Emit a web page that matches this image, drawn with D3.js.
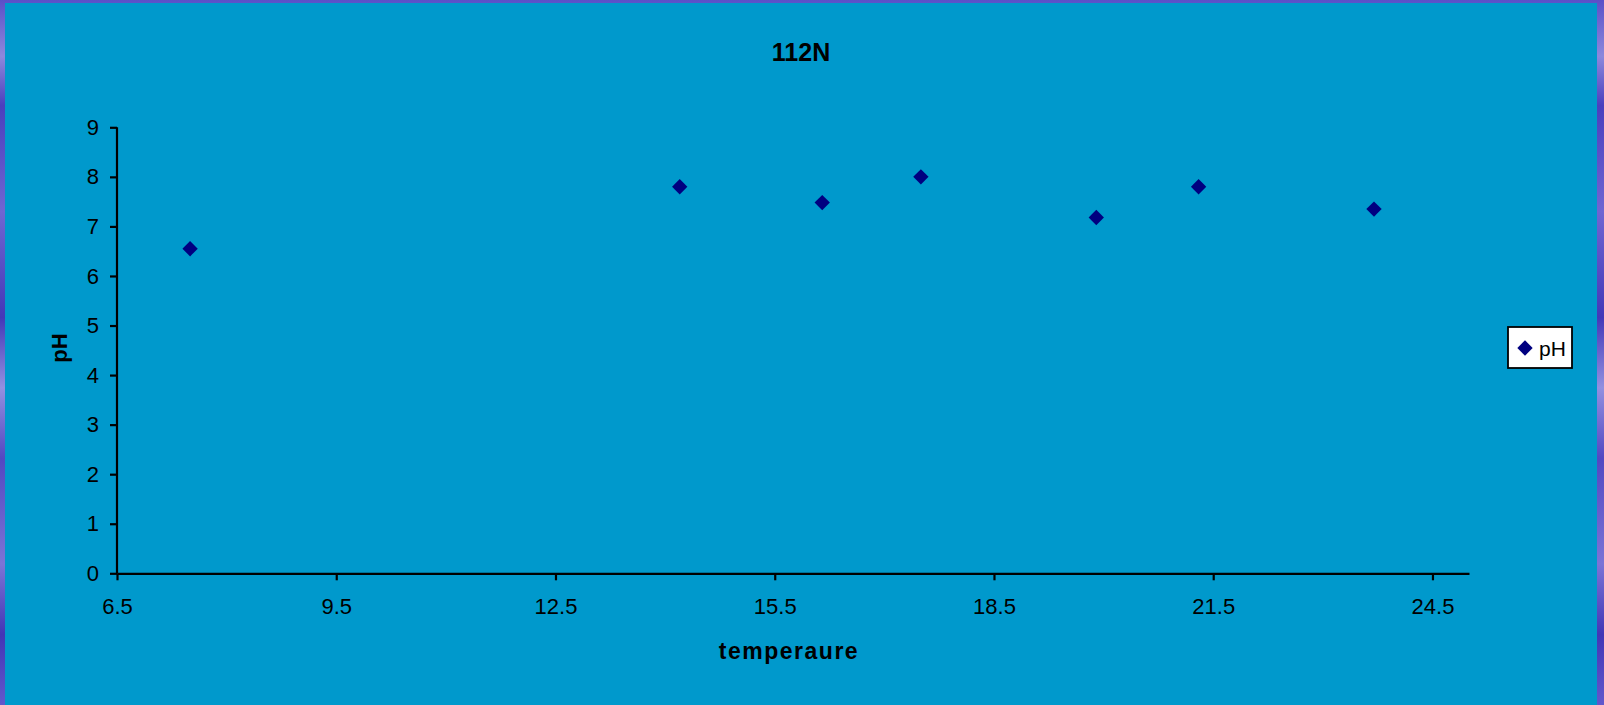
<!DOCTYPE html>
<html>
<head>
<meta charset="utf-8">
<script src="https://cdn.jsdelivr.net/npm/d3@7"></script>
<style>
  html, body { margin: 0; padding: 0; background: #4b40c0; overflow: hidden; }
  svg { display: block; }
</style>
</head>
<body>
<script>
// Sample measurements for site 112N
const temperature = [7.5, 14.2, 16.15, 17.5, 19.9, 21.3, 23.7];
const phValues    = [6.55, 7.8, 7.48, 8.0, 7.18, 7.8, 7.35];
const xTicks = [6.5, 9.5, 12.5, 15.5, 18.5, 21.5, 24.5];
const yTicks = [0, 1, 2, 3, 4, 5, 6, 7, 8, 9];
const xDomain = [6.5, 25];
const yDomain = [0, 9];
const chartTitle = "112N";
const xTitle = "temperaure";
const yTitle = "pH";
const seriesName = "pH";

const W = 1604, H = 705;
const font = "'Liberation Sans', Arial, sans-serif";

const svg = d3.select("body").append("svg").attr("width", W).attr("height", H);

// Textured purple frame
const defs = svg.append("defs");
const grad = defs.append("linearGradient").attr("id", "frame")
  .attr("x1", 0).attr("y1", 0).attr("x2", 0).attr("y2", 1);
[["0%", "#5a50c8"], ["8%", "#8c88dc"], ["15%", "#4a3fbe"], ["30%", "#6f66d2"],
 ["45%", "#4338b8"], ["55%", "#9290e0"], ["65%", "#5248c2"], ["80%", "#7b74d6"],
 ["90%", "#4236b6"], ["100%", "#6258cc"]].forEach(([o, c]) =>
  grad.append("stop").attr("offset", o).attr("stop-color", c));
svg.append("rect").attr("width", W).attr("height", H).attr("fill", "url(#frame)");

// Chart area
svg.append("rect").attr("x", 5).attr("y", 3).attr("width", 1592).attr("height", H - 3)
  .attr("fill", "#0099cc");

const x = d3.scaleLinear().domain(xDomain).range([117, 1469]);
const y = d3.scaleLinear().domain(yDomain).range([573.3, 127.3]);

// X axis
const gx = svg.append("g").attr("transform", `translate(0,${y(0)})`)
  .call(d3.axisBottom(x).tickValues(xTicks).tickFormat(d3.format(".1f"))
    .tickSize(7).tickSizeOuter(0).tickPadding(18));
// Y axis
const gy = svg.append("g").attr("transform", `translate(${x(xDomain[0])},0)`)
  .call(d3.axisLeft(y).tickValues(yTicks).tickFormat(d3.format("d"))
    .tickSize(7).tickSizeOuter(0).tickPadding(11));

[gx, gy].forEach(g => {
  g.select(".domain").attr("stroke", "#000").attr("stroke-width", 2.2);
  g.selectAll(".tick line").attr("stroke", "#000").attr("stroke-width", 2.2);
  g.selectAll(".tick text").attr("fill", "#000")
    .style("font-family", font).style("font-size", "22px");
});
// y-axis line runs down to the horizontal axis
gy.select(".domain").attr("d", `M0,${y(9)}V${y(0)}`);

// Markers
const diamond = d3.symbol().type(d3.symbolDiamond2).size(150);
svg.append("g").selectAll("path")
  .data(temperature.map((t, i) => [t, phValues[i]]))
  .join("path")
  .attr("transform", d => `translate(${x(d[0])},${y(d[1])})`)
  .attr("d", diamond)
  .attr("fill", "#000080");

// Titles
svg.append("text").attr("x", 801).attr("y", 61).attr("text-anchor", "middle")
  .style("font-family", font).style("font-size", "25px").style("font-weight", "bold")
  .text(chartTitle);
svg.append("text").attr("x", 789).attr("y", 659).attr("text-anchor", "middle")
  .style("font-family", font).style("font-size", "23px").style("font-weight", "bold")
  .style("letter-spacing", "1.5px")
  .text(xTitle);
svg.append("text").attr("transform", `translate(67,348) rotate(-90)`)
  .attr("text-anchor", "middle")
  .style("font-family", font).style("font-size", "22px").style("font-weight", "bold")
  .text(yTitle);

// Legend
const lg = svg.append("g");
lg.append("rect").attr("x", 1508).attr("y", 327).attr("width", 64).attr("height", 41)
  .attr("fill", "#fff").attr("stroke", "#000").attr("stroke-width", 1.8);
lg.append("path").attr("transform", "translate(1525,348)").attr("d", diamond)
  .attr("fill", "#000080");
lg.append("text").attr("x", 1539).attr("y", 356)
  .style("font-family", font).style("font-size", "21px").text(seriesName);
</script>
</body>
</html>
